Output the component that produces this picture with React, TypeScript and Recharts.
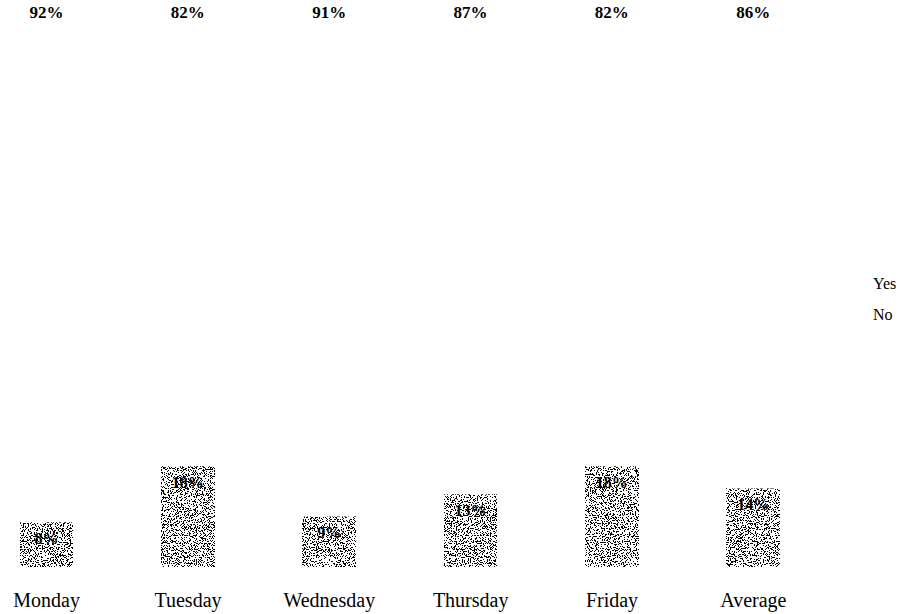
import React from 'react';
import { BarChart, Bar, XAxis, YAxis, LabelList } from 'recharts';

const days = ['Monday', 'Tuesday', 'Wednesday', 'Thursday', 'Friday', 'Average'];
const yesValues = [92, 82, 91, 87, 82, 86];
const noValues = [8, 18, 9, 13, 18, 14];
const legendLabels = ['Yes', 'No'];

const data = days.map((d, i) => ({ day: d, yes: yesValues[i], no: noValues[i] }));

const serif = '"Liberation Serif", "DejaVu Serif", serif';

const NoiseBar = (props: any) => {
  const { x, y, width, height } = props;
  if (!height || height <= 0) return null;
  return <rect x={x} y={y} width={width} height={height} fill="#fff" filter="url(#noiseFilter)" />;
};

export default function App() {
  return (
    <div style={{ position: 'absolute', left: 0, top: 0, background: '#fff', width: 909, height: 614 }}>
      <BarChart
        width={909}
        height={614}
        data={data}
        margin={{ top: 7, right: 85, bottom: 17, left: -24 }}
        barSize={53}
      >
        <defs>
          <filter id="noiseFilter" x="0" y="0" width="100%" height="100%" colorInterpolationFilters="sRGB">
            <feTurbulence type="fractalNoise" baseFrequency="0.85" numOctaves={2} seed={7} result="t" />
            <feColorMatrix
              in="t"
              type="matrix"
              values="1 0 0 0 0  1 0 0 0 0  1 0 0 0 0  0 0 0 0 1"
              result="g"
            />
            <feComponentTransfer in="g">
              <feFuncR type="discrete" tableValues="0 0 0 0 1 1 1 1 1" />
              <feFuncG type="discrete" tableValues="0 0 0 0 1 1 1 1 1" />
              <feFuncB type="discrete" tableValues="0 0 0 0 1 1 1 1 1" />
            </feComponentTransfer>
          </filter>
        </defs>
        <XAxis
          dataKey="day"
          axisLine={false}
          tickLine={false}
          tickMargin={20}
          tick={{ fontFamily: serif, fontSize: 20, fill: '#000' }}
          interval={0}
        />
        <YAxis hide domain={[0, 100]} />
        <Bar dataKey="no" stackId="a" fill="#888" shape={<NoiseBar />} isAnimationActive={false}>
          <LabelList
            dataKey="no"
            position="insideTop"
            offset={10}
            formatter={(v: any) => `${v}%`}
            style={{ fontFamily: serif, fontSize: 16, fontWeight: 'bold', fill: '#000' }}
          />
        </Bar>
        <Bar dataKey="yes" stackId="a" fill="#fff" isAnimationActive={false}>
          <LabelList
            dataKey="yes"
            position="insideTop"
            offset={-1}
            formatter={(v: any) => `${v}%`}
            style={{ fontFamily: serif, fontSize: 17, fontWeight: 'bold', fill: '#000' }}
          />
        </Bar>
      </BarChart>
      <div
        style={{
          position: 'absolute',
          left: 873,
          top: 268,
          fontFamily: serif,
          fontSize: 16,
          color: '#000',
          lineHeight: '31px',
        }}
      >
        {legendLabels.map((l) => (
          <div key={l}>{l}</div>
        ))}
      </div>
    </div>
  );
}
